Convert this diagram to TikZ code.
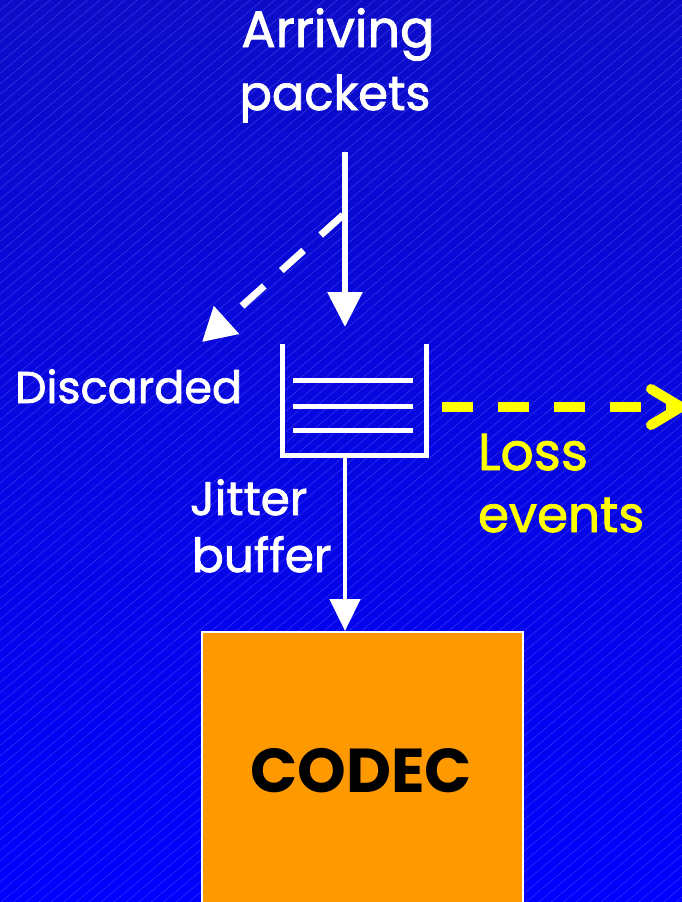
\documentclass[tikz,border=0pt]{standalone}
\usepackage{fontspec}
\setmainfont[FakeBold=1.6]{Poppins}
\newfontfamily\codecfont{Poppins}
\usetikzlibrary{arrows.meta,calc}
\definecolor{bgtop}{RGB}{12,12,200}
\definecolor{bgbot}{RGB}{0,0,252}
\definecolor{stripe}{RGB}{130,130,255}
\definecolor{codecfill}{RGB}{255,153,0}
\definecolor{lossyellow}{RGB}{255,255,0}
\begin{document}
\begin{tikzpicture}[x=1pt,y=-1pt,
  wtext/.style={text=white, inner sep=0pt, outer sep=0pt},
  ytext/.style={text=lossyellow, inner sep=0pt, outer sep=0pt},
  wline/.style={draw=white, line width=6pt},
  bufline/.style={draw=white, line width=5pt},
  stripeline/.style={draw=stripe, line width=0.4pt, opacity=0.45}]
\useasboundingbox (0,0) rectangle (682,902);
\shade[top color=bgtop, bottom color=bgbot] (0,0) rectangle (682,902);
\begin{scope}
  \clip (0,0) rectangle (682,902);
  \foreach \k in {0,...,140} \draw[stripeline] (0,\k*10.5) -- ++(1100,-924);
\end{scope}

% texts
\node[wtext, anchor=base, font=\fontsize{51}{58}\selectfont] (arr1) at (338,47) {Arriving};
\node[wtext, anchor=base, font=\fontsize{48}{58}\selectfont] (arr2) at (335,110) {packets};
\node[wtext, anchor=base west, font=\fontsize{44.5}{56}\selectfont] (disc) at (15,403) {Discarded};
\node[wtext, anchor=base west, font=\fontsize{47}{56}\selectfont] (jit) at (190,515) {Jitter};
\node[wtext, anchor=base west, font=\fontsize{47}{56}\selectfont] (buft) at (192,572) {buffer};
\node[ytext, anchor=base west, font=\fontsize{52}{66}\selectfont] (loss) at (478,470) {Loss};
\node[ytext, anchor=base west, font=\fontsize{50}{66}\selectfont] (ev) at (478,532) {events};

% buffer
\node[minimum width=144pt, minimum height=111pt, inner sep=0pt, outer sep=0pt] (buf) at (354,399.5) {};
\draw[bufline, line join=miter] (buf.north west) -- (buf.south west) -- (buf.south east) -- (buf.north east);
\foreach \dy in {36,62,86}
  \draw[bufline] ($(buf.north west)+(11,\dy)$) -- ($(buf.north east)+(-13,\dy)$);

% codec
\node[draw=white, fill=codecfill, line width=1.5pt, minimum width=321pt, minimum height=300pt,
      inner sep=0pt, anchor=north west] (codec) at (201,631) {};
\node[inner sep=0pt, anchor=base, font=\codecfont\fontsize{62}{72}\selectfont\bfseries] (codect) at (361,792) {CODEC};

% connectors
\coordinate (in) at (345,152);
\coordinate (ax) at (345,0);
\coordinate (split) at (343,215);
\coordinate (discend) at (202,342);
\coordinate (lossstart) at ($(buf.east)+(16,7.5)$);
\coordinate (lossend) at (686,407);

\draw[wline, -{Triangle[length=35pt,width=34pt]}, shorten >=17pt] (in) -- (buf.north -| ax);
\draw[white, line width=7pt, dash pattern=on 30pt off 23pt, -{Triangle[length=33pt,width=36pt]}] (split) -- (discend);
\draw[white, line width=4.5pt, -{Triangle[length=32pt,width=30pt]}] (buf.south -| ax) -- (codec.north -| ax);
\draw[lossyellow, line width=10pt, dash pattern=on 31pt off 25pt,
      -{Straight Barb[length=30pt,width=36pt,line cap=round,line join=round]}] (lossstart) -- (lossend);
\end{tikzpicture}
\end{document}
